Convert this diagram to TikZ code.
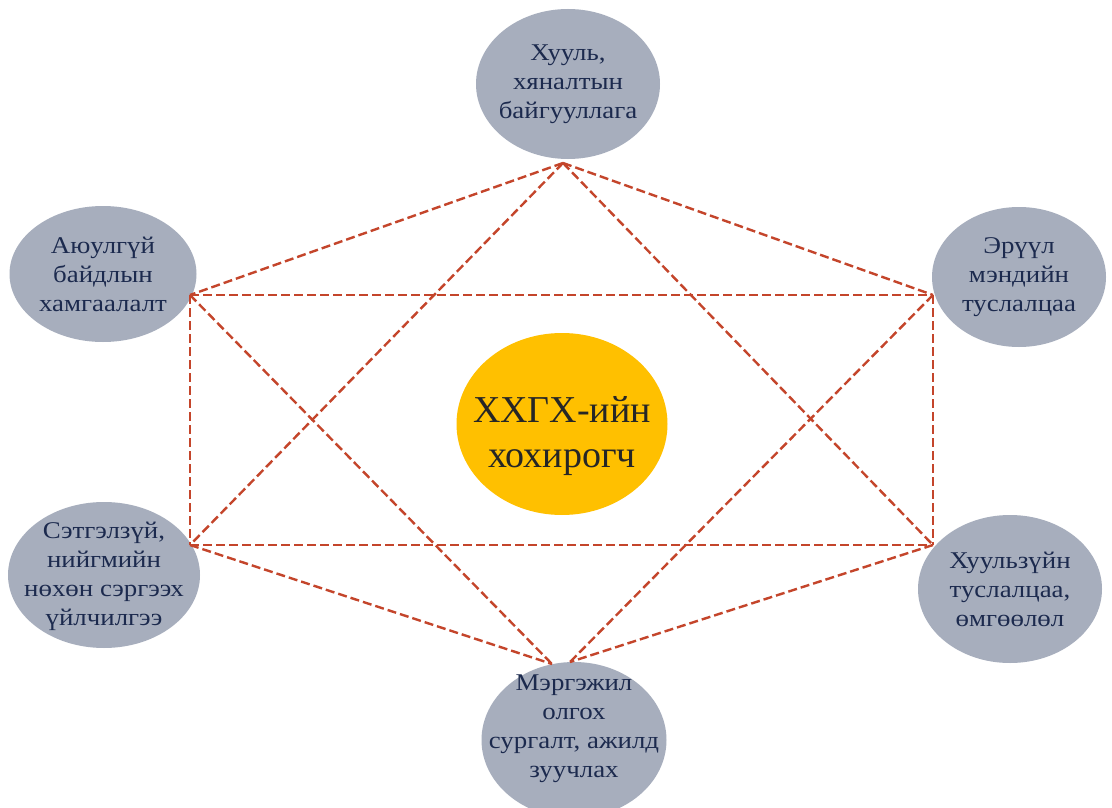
\documentclass[tikz,border=0pt]{standalone}
\usepackage{fontspec}
\setmainfont{Liberation Serif}
\newfontfamily\sidefont{Liberation Serif}[FakeStretch=1.12]
\usetikzlibrary{shapes.geometric}
\definecolor{ellfill}{HTML}{A7AEBD}
\definecolor{elltext}{HTML}{1C2A4E}
\definecolor{gold}{HTML}{FFC000}
\definecolor{dashred}{HTML}{C4452B}
\tikzset{
  side/.style={ellipse, fill=ellfill, draw=none, inner sep=0pt},
  sidetext/.style={align=center, inner sep=0pt, text=elltext,
    font=\sidefont\fontsize{24}{29}\selectfont},
  hub/.style={ellipse, fill=gold, draw=none, inner sep=0pt},
  hubtext/.style={align=center, inner sep=0pt, text=black!85,
    font=\fontsize{38}{45}\selectfont},
  link/.style={draw=dashred, line width=2.4pt, dash pattern=on 9pt off 4pt}
}
\begin{document}
\begin{tikzpicture}[x=1pt,y=-1pt]
\useasboundingbox (0,0) rectangle (1112,808);
\fill[white] (0,0) rectangle (1112,808);
\begin{scope}
\clip (0,0) rectangle (1112,808);
\node[side, minimum width=184pt, minimum height=150pt] (top) at (568,84) {};
\node[side, minimum width=187pt, minimum height=136pt] (lu) at (103,274) {};
\node[side, minimum width=174pt, minimum height=140pt] (ru) at (1019,277) {};
\node[side, minimum width=192pt, minimum height=146pt] (ll) at (104,575) {};
\node[side, minimum width=184pt, minimum height=148pt] (rl) at (1010,589) {};
\node[side, minimum width=185pt, minimum height=156pt] (bot) at (574,740) {};
\end{scope}
\node[sidetext] (topt) at (top) {Хууль,\\хяналтын\\байгууллага};
\node[sidetext] (lut) at (lu) {Аюулгүй\\байдлын\\хамгаалалт};
\node[sidetext] (rut) at (ru) {Эрүүл\\мэндийн\\туслалцаа};
\node[sidetext] (llt) at (104,576) {Сэтгэлзүй,\\нийгмийн\\нөхөн сэргээх\\үйлчилгээ};
\node[sidetext] (rlt) at (rl) {Хуульзүйн\\туслалцаа,\\өмгөөлөл};
\node[sidetext] (bott) at (574,729) {Мэргэжил\\олгох\\сургалт, ажилд\\зуучлах};
\node[hub, minimum width=211pt, minimum height=182pt] (hub) at (562,424) {};
\node[hubtext] (hubt) at (562,436) {ХХГХ-ийн\\хохирогч};
\coordinate (tv) at (563,163);
\coordinate (tl) at (190,295);
\coordinate (tr) at (933,295);
\coordinate (bl) at (190,545);
\coordinate (br) at (933,545);
\coordinate (bvl) at (552,664);
\coordinate (bvr) at (570,662);
\draw[link] (tv) -- (tl);
\draw[link] (tv) -- (tr);
\draw[link] (tv) -- (bl);
\draw[link] (tv) -- (br);
\draw[link] (tl) -- (tr);
\draw[link] (bl) -- (br);
\draw[link] (tl) -- (bl);
\draw[link] (tr) -- (br);
\draw[link] (tl) -- (bvl);
\draw[link] (bl) -- (bvl);
\draw[link] (tr) -- (bvr);
\draw[link] (br) -- (bvr);
\end{tikzpicture}
\end{document}
